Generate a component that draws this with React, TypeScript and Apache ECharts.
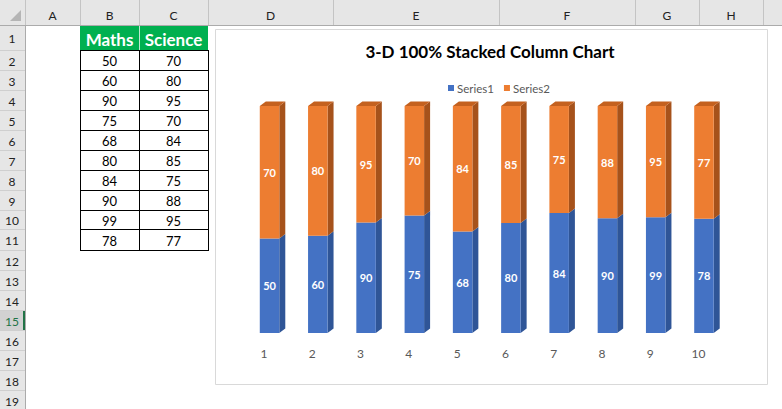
import React, { useEffect, useRef } from "react";
import * as echarts from "echarts";

// ---- data ----
const categories = ["1", "2", "3", "4", "5", "6", "7", "8", "9", "10"];
const maths = [50, 60, 90, 75, 68, 80, 84, 90, 99, 78];
const science = [70, 80, 95, 70, 84, 85, 75, 88, 95, 77];
const seriesNames = ["Series1", "Series2"];
const tableHeaders = ["Maths", "Science"];
const columnLetters = ["A", "B", "C", "D", "E", "F", "G", "H"];
const rowNumbers = Array.from({ length: 19 }, (_, i) => String(i + 1));
const chartTitle = "3-D 100% Stacked Column Chart";

// ---- layout ----
const W = 782;
const H = 409;
const colBounds = [25, 80, 139, 208, 333, 499, 635, 699, 763, 782];
const rowBounds = [25, 50, 70, 90, 110, 130, 150, 170, 190, 210, 229, 250, 270, 290, 310, 330, 350, 370, 390, 410];
const selectedRow = 15;
const FONT = "Lato, 'Noto Sans', sans-serif";

function buildSheet(): any[] {
  const els: any[] = [];
  els.push({ type: "rect", shape: { x: 0, y: 0, width: W, height: H }, style: { fill: "#ffffff" }, silent: true });
  // column header
  els.push({ type: "rect", shape: { x: 0, y: 0, width: W, height: 25 }, style: { fill: "#E6E6E6" }, silent: true });
  // row header
  els.push({ type: "rect", shape: { x: 0, y: 25, width: 25, height: H - 25 }, style: { fill: "#E6E6E6" }, silent: true });
  // selected row
  const sr = selectedRow - 1;
  els.push({ type: "rect", shape: { x: 0, y: rowBounds[sr], width: 25, height: rowBounds[sr + 1] - rowBounds[sr] }, style: { fill: "#D2D2D2" }, silent: true });
  els.push({ type: "rect", shape: { x: 23, y: rowBounds[sr], width: 2, height: rowBounds[sr + 1] - rowBounds[sr] }, style: { fill: "#217346" }, silent: true });
  // corner triangle
  els.push({ type: "polygon", shape: { points: [[21, 10], [21, 21], [10, 21]] }, style: { fill: "#B5B5B5" }, silent: true });
  // column separators + letters
  colBounds.slice(0, colBounds.length - 1).forEach((x, i) => {
    els.push({ type: "line", shape: { x1: x + 0.5, y1: 0, x2: x + 0.5, y2: 25 }, style: { stroke: "#C4C4C4", lineWidth: 1 }, silent: true });
    if (i < columnLetters.length) {
      els.push({
        type: "text", x: (x + colBounds[i + 1]) / 2, y: 15, silent: true,
        style: { text: columnLetters[i], fill: "#222", font: `12px ${FONT}`, align: "center", verticalAlign: "middle" },
      });
    }
  });
  els.push({ type: "line", shape: { x1: 0, y1: 25.5, x2: W, y2: 25.5 }, style: { stroke: "#ABABAB", lineWidth: 1 }, silent: true });
  // row separators + numbers
  rowNumbers.forEach((r, i) => {
    const y0 = rowBounds[i];
    const y1 = rowBounds[i + 1];
    els.push({ type: "line", shape: { x1: 0, y1: y1 + 0.5, x2: 25, y2: y1 + 0.5 }, style: { stroke: "#CFCFCF", lineWidth: 1 }, silent: true });
    els.push({
      type: "text", x: 12, y: (y0 + y1) / 2 + 1, silent: true,
      style: { text: r, fill: i === sr ? "#217346" : "#222", font: `12px ${FONT}`, align: "center", verticalAlign: "middle" },
    });
  });
  els.push({ type: "line", shape: { x1: 25.5, y1: 25, x2: 25.5, y2: H }, style: { stroke: "#ABABAB", lineWidth: 1 }, silent: true });

  // table header
  const tx = [colBounds[1], colBounds[2], colBounds[3]];
  tableHeaders.forEach((h, j) => {
    els.push({ type: "rect", shape: { x: tx[j], y: 26, width: tx[j + 1] - tx[j], height: 24 }, style: { fill: "#00B050" }, silent: true });
    els.push({
      type: "text", x: (tx[j] + tx[j + 1]) / 2, y: 39, silent: true,
      style: { text: h, fill: "#ffffff", font: `bold 17px ${FONT}`, align: "center", verticalAlign: "middle" },
    });
  });
  els.push({ type: "line", shape: { x1: tx[1] + 0.5, y1: 26, x2: tx[1] + 0.5, y2: 50 }, style: { stroke: "#BFE9CF", lineWidth: 1 }, silent: true });
  // table body
  const top = rowBounds[1];
  const bottom = rowBounds[1 + maths.length];
  maths.forEach((m, i) => {
    const y0 = rowBounds[1 + i];
    const y1 = rowBounds[2 + i];
    [m, science[i]].forEach((v, j) => {
      els.push({
        type: "text", x: (tx[j] + tx[j + 1]) / 2, y: (y0 + y1) / 2 + 1, silent: true,
        style: { text: String(v), fill: "#000", font: `13px ${FONT}`, align: "center", verticalAlign: "middle" },
      });
    });
  });
  for (let i = 1; i <= maths.length + 1; i++) {
    const y = rowBounds[i] + 0.5;
    els.push({ type: "line", shape: { x1: tx[0], y1: y, x2: tx[2] + 1, y2: y }, style: { stroke: "#000", lineWidth: 1 }, silent: true });
  }
  tx.forEach((x) => {
    els.push({ type: "line", shape: { x1: x + 0.5, y1: top, x2: x + 0.5, y2: bottom + 1 }, style: { stroke: "#000", lineWidth: 1 }, silent: true });
  });

  // chart area
  els.push({ type: "rect", shape: { x: 215.5, y: 29.5, width: 552, height: 355 }, style: { fill: "#ffffff", stroke: "#D9D9D9", lineWidth: 1 }, silent: true });
  els.push({
    type: "text", x: 490, y: 51, silent: true,
    style: { text: chartTitle, fill: "#000", font: `bold 17px ${FONT}`, align: "center", verticalAlign: "middle" },
  });
  return els;
}

export default function App() {
  const ref = useRef<HTMLDivElement>(null);
  useEffect(() => {
    if (!ref.current) return;
    const chart = echarts.init(ref.current, undefined, { renderer: "svg" });
    const totals = maths.map((m, i) => m + science[i]);
    const pctMaths = maths.map((m, i) => (m / totals[i]) * 100);
    const pctScience = science.map((s, i) => (s / totals[i]) * 100);
    const DX = 6;
    const DY = 4.5;
    const BAR_FRAC = 0.404;

    chart.setOption({
      animation: false,
      textStyle: { fontFamily: FONT },
      graphic: { elements: buildSheet() },
      legend: {
        data: seriesNames,
        left: 443,
        top: 77,
        icon: "rect",
        itemWidth: 6,
        itemHeight: 6,
        itemGap: 10,
        textStyle: { color: "#595959", fontSize: 11.5, fontFamily: FONT, padding: [0, 0, 0, -2] },
      },
      grid: { left: 245.4, right: 53.9, top: 106, bottom: 76, containLabel: false },
      xAxis: {
        type: "category",
        data: categories,
        axisLine: { show: false },
        axisTick: { show: false },
        axisLabel: { color: "#595959", fontSize: 12, margin: 14, padding: [0, 11, 0, 0], fontFamily: FONT },
      },
      yAxis: { type: "value", min: 0, max: 100, show: false },
      series: [
        {
          name: seriesNames[0],
          type: "bar",
          stack: "total",
          barWidth: "40.4%",
          data: pctMaths,
          itemStyle: { color: "#4472C4" },
          label: {
            show: true, position: "inside", color: "#fff", fontWeight: "bold", fontSize: 11, fontFamily: FONT,
            formatter: (p: any) => String(maths[p.dataIndex]),
          },
        },
        {
          name: seriesNames[1],
          type: "bar",
          stack: "total",
          barWidth: "40.4%",
          data: pctScience,
          itemStyle: { color: "#ED7D31" },
          label: {
            show: true, position: "inside", color: "#fff", fontWeight: "bold", fontSize: 11, fontFamily: FONT,
            formatter: (p: any) => String(science[p.dataIndex]),
          },
        },
        {
          name: "depth",
          type: "custom",
          data: categories.map((_, i) => [i, pctMaths[i], 100]),
          encode: { x: 0, y: 1 },
          silent: true,
          renderItem: (params: any, api: any) => {
            const i = api.value(0);
            const c0 = api.coord([i, 0]);
            const c1 = api.coord([i, api.value(1)]);
            const c2 = api.coord([i, api.value(2)]);
            const w = api.size([1, 0])[0] * BAR_FRAC;
            const l = c0[0] - w / 2;
            const r = c0[0] + w / 2;
            return {
              type: "group",
              children: [
                { type: "polygon", shape: { points: [[r, c0[1]], [r + DX, c0[1] - DY], [r + DX, c1[1] - DY], [r, c1[1]]] }, style: { fill: "#2F5597" } },
                { type: "polygon", shape: { points: [[r, c1[1]], [r + DX, c1[1] - DY], [r + DX, c2[1] - DY], [r, c2[1]]] }, style: { fill: "#A6521B" } },
                { type: "polygon", shape: { points: [[l, c2[1]], [r, c2[1]], [r + DX, c2[1] - DY], [l + DX, c2[1] - DY]] }, style: { fill: "#C4611F" } },
              ],
            };
          },
        },
      ],
    });
    return () => chart.dispose();
  }, []);
  return <div ref={ref} style={{ position: "absolute", left: 0, top: 0, width: W, height: H }} />;
}
